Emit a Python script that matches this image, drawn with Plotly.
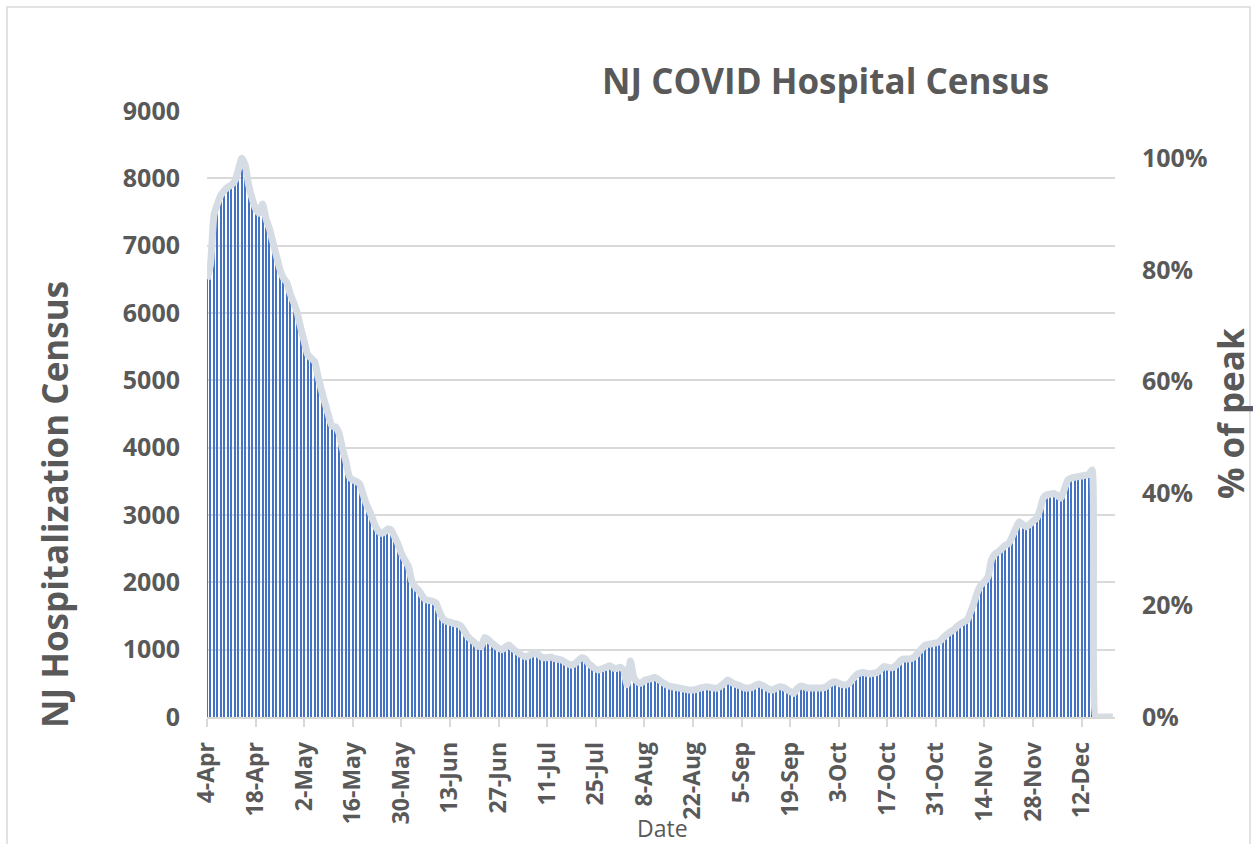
import pandas as pd
import plotly.graph_objects as go

# ---------------- data ----------------
start_date = "2020-04-04"
census = [
    6500, 6720, 7450, 7620, 7750, 7820, 7870, 7900, 7960, 8120,
    8300, 8200, 7900, 7700, 7550, 7480, 7620, 7400, 7250, 7050,
    6850, 6650, 6520, 6450, 6280, 6150, 6000, 5780, 5580, 5380,
    5330, 5280, 5050, 4850, 4660, 4480, 4320, 4310, 4220, 3990,
    3800, 3570, 3520, 3500, 3460, 3300, 3150, 3040, 2900, 2790,
    2730, 2740, 2790, 2780, 2680, 2570, 2430, 2330, 2240, 2020,
    1930, 1880, 1800, 1740, 1730, 1720, 1690, 1560, 1460, 1420,
    1410, 1390, 1380, 1360, 1290, 1200, 1150, 1110, 1060, 1045,
    1180, 1150, 1100, 1060, 1020, 1000, 1040, 1070, 1020, 980,
    940, 910, 895, 920, 940, 950, 900, 880, 880, 890,
    870, 860, 850, 820, 790, 770, 790, 840, 880, 860,
    790, 750, 710, 700, 720, 740, 760, 730, 720, 740,
    700, 480, 830, 580, 520, 500, 540, 560, 570, 590,
    560, 520, 490, 460, 450, 440, 430, 420, 410, 400,
    400, 410, 430, 440, 450, 440, 430, 430, 460, 500,
    550, 520, 490, 475, 450, 430, 430, 440, 470, 490,
    470, 440, 410, 400, 430, 450, 440, 410, 380, 350,
    420, 460, 450, 430, 430, 430, 430, 430, 440, 470,
    510, 525, 500, 480, 475, 500, 560, 620, 650, 660,
    650, 640, 650, 660, 700, 750, 740, 730, 745, 790,
    845, 860, 860, 870, 900, 960, 1020, 1070, 1080, 1090,
    1100, 1120, 1170, 1220, 1260, 1290, 1340, 1380, 1410, 1440,
    1560, 1700, 1860, 1960, 2010, 2080, 2330, 2420, 2455, 2500,
    2550, 2580, 2680, 2800, 2900, 2860, 2825, 2860, 2910, 2950,
    3080, 3260, 3300, 3310, 3320, 3290, 3250, 3380, 3520, 3550,
    3560, 3570, 3580, 3590, 3600, 3670,
]
trailing_values = [0, 0, 0, 0, 0, 0]          # future dates shown as 0 on the line
peak_census = 8300
y_tick_vals = [0, 1000, 2000, 3000, 4000, 5000, 6000, 7000, 8000, 9000]
pct_tick_vals = [0, 0.2, 0.4, 0.6, 0.8, 1.0]

bar_dates = pd.date_range(start_date, periods=len(census), freq="D")
line_dates = pd.date_range(start_date, periods=len(census) + len(trailing_values), freq="D")
line_values = census + trailing_values
line_pct = [v / peak_census for v in line_values]

# ---------------- style ----------------
TXT = "#595959"
GRID = "#D9D9D9"
FONT = "Open Sans"
DAY_MS = 86400000
W, H = 1253, 844
L, R, T, B = 207, 1115, 111, 717  # plot area in pixels

fig = go.Figure()
fig.add_trace(go.Bar(
    x=bar_dates, y=census,
    width=0.3 * DAY_MS,
    marker=dict(color="#4472C4", opacity=0.999, line=dict(width=0)),
    showlegend=False, hoverinfo="x+y",
))
fig.add_trace(go.Scatter(
    x=line_dates, y=line_values, mode="lines",
    line=dict(color="#D6DCE4", width=7, shape="spline", smoothing=0.5),
    showlegend=False, hoverinfo="skip",
))
# same series expressed as % of peak, invisible, to carry the right-hand axis
fig.add_trace(go.Scatter(
    x=line_dates, y=line_pct, yaxis="y2", mode="lines",
    line=dict(color="rgba(0,0,0,0)", width=0),
    showlegend=False, hoverinfo="skip",
))

x0 = pd.Timestamp(start_date)
x1 = x0 + pd.Timedelta(days=261.6)

fig.update_layout(
    width=W, height=H,
    margin=dict(l=L, r=W - R, t=T, b=H - B, pad=0),
    paper_bgcolor="white", plot_bgcolor="white",
    bargap=0,
    font=dict(family=FONT, color=TXT),
    xaxis=dict(
        type="date", range=[x0, x1],
        tick0=x0, dtick=14 * DAY_MS, tickformat="%-d-%b",
        tickangle=-90, ticks="outside", ticklen=8, tickwidth=1.5, tickcolor=GRID,
        ticklabelstandoff=6,
        tickfont=dict(family=FONT, size=23, color=TXT, weight="bold"),
        showgrid=False, showline=True, linecolor=GRID, linewidth=1.5,
        zeroline=False,
    ),
    yaxis=dict(
        range=[0, 9000], tickvals=y_tick_vals,
        tickfont=dict(family=FONT, size=25, color=TXT, weight="bold"),
        ticks="", ticklabelstandoff=26,
        showgrid=True, gridcolor=GRID, gridwidth=1.5,
        zeroline=False, showline=False,
    ),
    yaxis2=dict(
        overlaying="y", side="right", anchor="x",
        range=[0, 9000 / peak_census], tickvals=pct_tick_vals, tickformat=".0%",
        tickfont=dict(family=FONT, size=25, color=TXT, weight="bold"),
        ticks="", ticklabelstandoff=26,
        showgrid=False, zeroline=False, showline=False,
    ),
)

def px_x(px):
    return (px - L) / (R - L)

def px_y(py):
    return (B - py) / (B - T)

annotations = [
    dict(text="NJ COVID Hospital Census", x=px_x(825), y=px_y(80),
         font=dict(family=FONT, size=35, color=TXT, weight="bold")),
    dict(text="NJ Hospitalization Census", x=px_x(54), y=px_y(505), textangle=-90,
         font=dict(family=FONT, size=35, color=TXT, weight="bold")),
    dict(text="% of peak", x=px_x(1230), y=px_y(414), textangle=-90,
         font=dict(family=FONT, size=35, color=TXT, weight="bold")),
    dict(text="Date", x=px_x(662), y=px_y(828),
         font=dict(family=FONT, size=23, color=TXT)),
]
for a in annotations:
    a.update(xref="paper", yref="paper", showarrow=False, xanchor="center", yanchor="middle")
fig.update_layout(annotations=annotations)

fig.add_shape(type="rect", xref="paper", yref="paper",
              x0=px_x(7), x1=px_x(1250), y0=px_y(7), y1=px_y(860),
              line=dict(color=GRID, width=1.5), fillcolor="rgba(0,0,0,0)", layer="below")

fig.write_html(
    "out.html",
    config={"displayModeBar": False},
    post_script="document.body.style.margin='0px';document.body.style.overflow='hidden';",
)
